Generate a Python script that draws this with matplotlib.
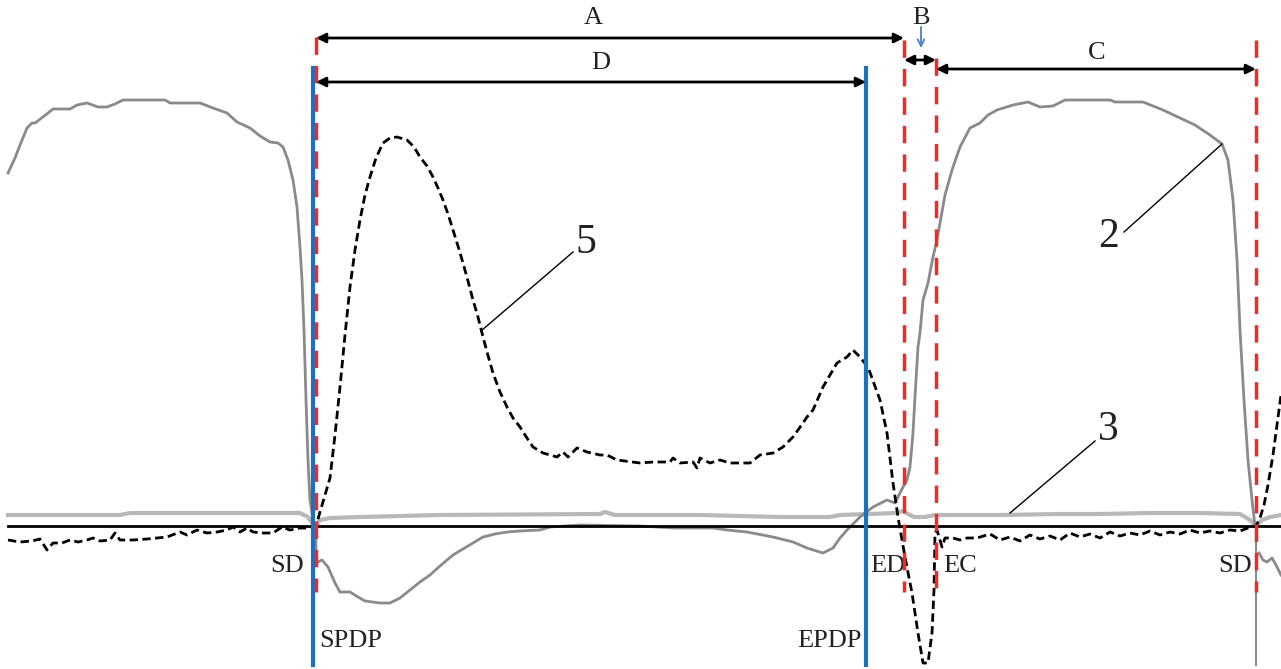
import numpy as np
import matplotlib
matplotlib.use("Agg")
import matplotlib.pyplot as plt

# curve 2 (large grey trace): (time, level) points in image units
curve2 = [(8, 173), (15, 158), (20, 145), (27, 128), (32, 123), (35, 123), (43, 117), (53, 109),
          (70, 109), (77, 105), (87, 103), (98, 107), (107, 107), (115, 104), (123, 100), (165, 100),
          (170, 103), (200, 103), (213, 108), (227, 113), (237, 122), (250, 128), (260, 136),
          (270, 142), (278, 143), (283, 147), (288, 160), (293, 180), (297, 207), (300, 247),
          (302, 280), (304, 330), (306, 400), (308, 460), (310, 500), (313, 520), (316, 526),
          (316, 558), (318, 562), (322, 560), (328, 567), (335, 583), (340, 592), (350, 592),
          (358, 597), (365, 601), (380, 603), (390, 603), (400, 598), (410, 590), (420, 582),
          (430, 575), (440, 566), (453, 555), (463, 549), (473, 543), (483, 537), (495, 534),
          (507, 532), (520, 531), (540, 530), (550, 527), (580, 525), (640, 526), (673, 528),
          (713, 528), (727, 530), (747, 532), (773, 537), (793, 542), (807, 548), (823, 553),
          (833, 548), (840, 538), (847, 530), (860, 517), (873, 507), (887, 500), (895, 503),
          (903, 487), (907, 480), (910, 467), (913, 433), (915, 397), (918, 347), (920, 333),
          (923, 300), (928, 283), (933, 257), (937, 240), (940, 223), (945, 195), (952, 170),
          (960, 147), (970, 128), (980, 123), (988, 115), (997, 110), (1013, 105), (1028, 102),
          (1040, 107), (1053, 106), (1065, 100), (1110, 100), (1115, 102), (1143, 102),
          (1163, 110), (1180, 118), (1195, 125), (1210, 135), (1222, 144), (1228, 160),
          (1233, 200), (1237, 260), (1240, 330), (1244, 400), (1248, 460), (1252, 500), (1255, 526)]
curve2_tail = [(1259, 553), (1263, 560), (1267, 562), (1272, 558), (1276, 565), (1281, 575)]

# curve 3 (near-flat light trace)
curve3 = [(8, 515), (120, 515), (130, 513), (300, 513), (308, 517), (313, 524), (316, 525),
          (320, 520), (330, 518), (360, 517), (400, 516), (440, 515), (600, 514), (605, 512),
          (615, 515), (700, 515), (780, 517), (830, 517), (840, 515), (870, 514), (895, 513),
          (903, 511), (908, 514), (914, 517), (925, 517), (935, 515), (1000, 515), (1060, 514),
          (1100, 514), (1150, 513), (1200, 513), (1240, 514), (1250, 520), (1256, 526),
          (1262, 520), (1270, 517), (1281, 515)]

# curve 5 (dashed trace)
curve5 = [(8, 540), (20, 542), (32, 541), (40, 539), (47, 550), (53, 543), (62, 543), (70, 540),
          (78, 542), (87, 540), (93, 538), (100, 541), (110, 540), (115, 533), (120, 540),
          (133, 540), (147, 539), (157, 538), (167, 537), (180, 532), (187, 535), (197, 530),
          (207, 533), (217, 532), (227, 530), (233, 527), (240, 532), (247, 528), (253, 532),
          (263, 533), (273, 533), (282, 527), (290, 530), (300, 528), (307, 528), (316, 526),
          (320, 512), (325, 495), (330, 478), (335, 435), (340, 387), (345, 335), (350, 287),
          (355, 250), (360, 220), (365, 195), (370, 177), (376, 158), (383, 143), (390, 138),
          (397, 137), (407, 140), (414, 147), (420, 157), (427, 166), (433, 177), (438, 188),
          (443, 200), (448, 214), (453, 230), (458, 246), (463, 263), (468, 281), (473, 300),
          (478, 317), (482, 333), (487, 352), (493, 373), (500, 392), (507, 407), (513, 418),
          (520, 427), (527, 438), (533, 447), (543, 453), (557, 457), (563, 452), (568, 457),
          (577, 448), (587, 452), (600, 455), (607, 455), (617, 460), (640, 463), (653, 462),
          (670, 462), (673, 458), (680, 463), (693, 462), (697, 468), (700, 458), (710, 463),
          (720, 460), (730, 463), (750, 463), (760, 455), (773, 453), (783, 447), (793, 437),
          (803, 423), (807, 417), (813, 410), (823, 387), (837, 363), (847, 357), (853, 350),
          (858, 355), (868, 367), (880, 400), (887, 433), (893, 483), (898, 517), (905, 557),
          (912, 593), (918, 633), (923, 663), (928, 663), (932, 633), (934, 590), (935, 533),
          (937, 530), (942, 547), (945, 538), (953, 538), (960, 540), (967, 538), (977, 538),
          (990, 534), (1000, 540), (1010, 537), (1020, 541), (1030, 535), (1040, 539),
          (1050, 536), (1060, 540), (1070, 533), (1080, 537), (1090, 534), (1100, 538),
          (1110, 532), (1120, 536), (1130, 533), (1140, 535), (1150, 531), (1160, 535),
          (1170, 532), (1180, 534), (1190, 530), (1200, 533), (1210, 531), (1220, 533),
          (1230, 530), (1240, 531), (1248, 528), (1256, 526), (1260, 518), (1264, 505),
          (1268, 485), (1273, 455), (1277, 425), (1281, 395)]

# event markers
red_x = [316, 904, 936, 1256]
red_top = [37, 40, 58, 40]
blue_x = [313, 866]
# dimension arrows: (start, end, level, label, label x, label y)
dims = [(316, 904, 38, "A", 593, 18), (316, 866, 82, "D", 601, 63),
        (904, 936, 60, "B", 921, 18), (936, 1256, 69, "C", 1097, 53)]

fig = plt.figure(figsize=(12.81, 6.69), dpi=100)
ax = fig.add_axes([0, 0, 1, 1])
ax.set_xlim(0, 1281)
ax.set_ylim(669, 0)
ax.axis("off")

serif = ["Liberation Serif", "DejaVu Serif"]
grey2 = "#8a8a8a"
grey3 = "#b8b8b8"
txt = "#222222"

# baseline
ax.plot([8, 1281], [526, 526], color="black", lw=2, zorder=3)

x3, y3 = zip(*curve3)
ax.plot(x3, y3, color=grey3, lw=3, zorder=2)
x2, y2 = zip(*curve2)
ax.plot(x2, y2, color=grey2, lw=2, zorder=2)
ax.plot([1256, 1256], [526, 665], color=grey2, lw=1.5, zorder=2)
xt2, yt2 = zip(*curve2_tail)
ax.plot(xt2, yt2, color=grey2, lw=2, zorder=2)
x5, y5 = zip(*curve5)
ax.plot(x5, y5, color="black", lw=2, ls=(0, (3, 1.6)), zorder=4)

# vertical markers
for x in blue_x:
    ax.plot([x, x], [68, 665], color="#1f6fc1", lw=3, zorder=5)
for x, t in zip(red_x, red_top):
    ax.plot([x, x], [t, 592], color="#ee2a2a", lw=2.5, ls=(0, (5, 3.2)), zorder=6)

# dimension arrows
for x0, x1, y, lab, lx, ly in dims:
    ax.annotate("", xy=(x1, y), xytext=(x0, y),
                arrowprops=dict(arrowstyle="<|-|>", color="black", lw=2,
                                mutation_scale=14, shrinkA=0, shrinkB=0), zorder=7)
    ax.text(lx, ly, lab, fontsize=19, family=serif, ha="center", va="center", color=txt)
ax.annotate("", xy=(921, 48), xytext=(921, 27),
            arrowprops=dict(arrowstyle="->", color="#4a7fc8", lw=1.3,
                            mutation_scale=12, shrinkA=0, shrinkB=0))

# event labels
ax.text(304, 566, "SD", fontsize=19, family=serif, ha="right", va="center", color=txt)
ax.text(870, 566, "ED", fontsize=19, family=serif, ha="left", va="center", color=txt)
ax.text(943, 566, "EC", fontsize=19, family=serif, ha="left", va="center", color=txt)
ax.text(1252, 566, "SD", fontsize=19, family=serif, ha="right", va="center", color=txt)
ax.text(319, 641, "SPDP", fontsize=19, family=serif, ha="left", va="center", color=txt)
ax.text(862, 641, "EPDP", fontsize=19, family=serif, ha="right", va="center", color=txt)

# curve numbers with leader lines
ax.plot([481, 573], [331, 252], color="black", lw=1)
ax.text(586, 243, "5", fontsize=30, family=serif, ha="center", va="center", color=txt)
ax.plot([1124, 1222], [232, 144], color="black", lw=1)
ax.text(1108, 237, "2", fontsize=30, family=serif, ha="center", va="center", color=txt)
ax.plot([1010, 1095], [513, 441], color="black", lw=1)
ax.text(1108, 430, "3", fontsize=30, family=serif, ha="center", va="center", color=txt)

fig.savefig("out.png", dpi=100)
